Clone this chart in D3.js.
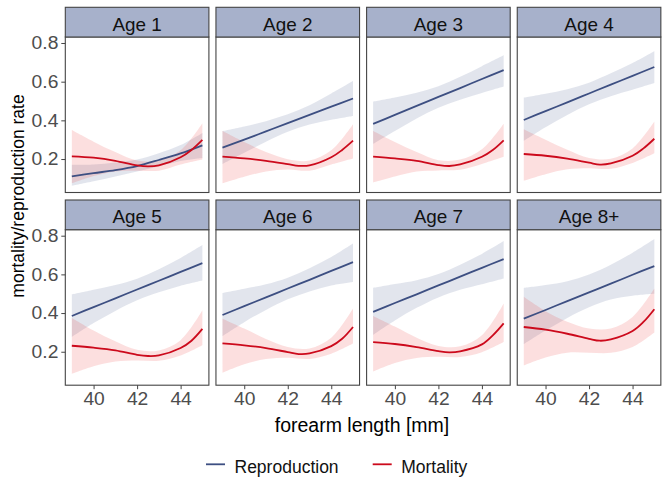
<!DOCTYPE html>
<html><head><meta charset="utf-8">
<script src="https://cdn.jsdelivr.net/npm/d3@7"></script>
<style>
body{margin:0;background:#fff}
svg{display:block}
text{font-family:"Liberation Sans",Arial,sans-serif}
</style>
</head><body>
<svg id="chart" width="666" height="482"></svg>
<script>
// ---- data ----
const ageLabels = ["Age 1","Age 2","Age 3","Age 4","Age 5","Age 6","Age 7","Age 8+"];
const gridX = [39,40,41,42,43,44,45];
const mortGridX = [39,40,41,42,42.5,43,44,44.5,45];

const reproFit = [
  [0.110,0.127,0.143,0.164,0.195,0.229,0.271],
  [0.259,0.300,0.343,0.386,0.428,0.471,0.513],
  [0.382,0.428,0.475,0.521,0.567,0.614,0.660],
  [0.402,0.448,0.493,0.539,0.585,0.630,0.676],
  [0.385,0.431,0.476,0.522,0.567,0.613,0.658],
  [0.390,0.436,0.481,0.527,0.572,0.618,0.663],
  [0.406,0.452,0.497,0.543,0.588,0.634,0.679],
  [0.371,0.416,0.462,0.507,0.552,0.598,0.643]
];
const reproLo = [
  [0.062,0.085,0.110,0.135,0.163,0.190,0.205],
  [0.174,0.232,0.290,0.341,0.378,0.403,0.423],
  [0.278,0.345,0.410,0.465,0.507,0.542,0.575],
  [0.295,0.365,0.428,0.483,0.525,0.558,0.593],
  [0.276,0.348,0.411,0.466,0.507,0.541,0.568],
  [0.281,0.353,0.416,0.471,0.512,0.543,0.561],
  [0.288,0.362,0.427,0.481,0.520,0.549,0.579],
  [0.240,0.310,0.375,0.430,0.470,0.490,0.500]
];
const reproHi = [
  [0.170,0.172,0.182,0.198,0.230,0.272,0.335],
  [0.344,0.368,0.396,0.431,0.478,0.539,0.603],
  [0.497,0.518,0.543,0.577,0.625,0.680,0.736],
  [0.518,0.538,0.561,0.595,0.643,0.696,0.757],
  [0.497,0.521,0.545,0.578,0.627,0.685,0.752],
  [0.504,0.526,0.549,0.583,0.632,0.690,0.760],
  [0.530,0.550,0.570,0.602,0.650,0.706,0.772],
  [0.530,0.545,0.565,0.600,0.650,0.712,0.783]
];
const mortFit = [
  [0.214,0.207,0.191,0.167,0.162,0.167,0.209,0.247,0.299],
  [0.212,0.203,0.191,0.174,0.165,0.167,0.209,0.247,0.295],
  [0.212,0.203,0.191,0.169,0.164,0.172,0.212,0.247,0.297],
  [0.226,0.217,0.202,0.181,0.171,0.177,0.217,0.255,0.305],
  [0.231,0.221,0.207,0.184,0.178,0.181,0.219,0.257,0.318],
  [0.243,0.233,0.219,0.198,0.188,0.191,0.229,0.267,0.328],
  [0.250,0.240,0.224,0.203,0.197,0.202,0.238,0.285,0.347],
  [0.328,0.314,0.293,0.267,0.257,0.264,0.307,0.354,0.420]
];
const mortLo = [
  [0.074,0.112,0.136,0.140,0.140,0.172,0.198],
  [0.074,0.108,0.136,0.146,0.140,0.172,0.203],
  [0.079,0.110,0.136,0.141,0.145,0.175,0.212],
  [0.088,0.122,0.147,0.153,0.150,0.180,0.230],
  [0.086,0.125,0.150,0.155,0.153,0.180,0.233],
  [0.091,0.135,0.162,0.169,0.163,0.190,0.242],
  [0.098,0.142,0.168,0.174,0.173,0.198,0.250],
  [0.129,0.170,0.195,0.195,0.195,0.225,0.300]
];
const mortHi = [
  [0.350,0.290,0.236,0.192,0.192,0.245,0.385],
  [0.345,0.288,0.236,0.199,0.192,0.245,0.380],
  [0.345,0.288,0.236,0.194,0.197,0.250,0.382],
  [0.354,0.300,0.248,0.206,0.202,0.255,0.394],
  [0.375,0.310,0.254,0.210,0.207,0.260,0.414],
  [0.371,0.320,0.266,0.224,0.217,0.272,0.423],
  [0.385,0.330,0.272,0.230,0.228,0.285,0.449],
  [0.484,0.410,0.355,0.320,0.320,0.380,0.527]
];
const xTicks = [40,42,44];
const yTicks = [0.2,0.4,0.6,0.8];
const seriesNames = ["Reproduction","Mortality"];
const xDomain = [38.7,45.3];
const yDomain = [0.027,0.831];

// ---- styles / layout ----
const colors = {repro:"#3D4F82", mort:"#CC0A1C", reproFill:"#3E5288", mortFill:"#E8262A"};
const left0 = 65.3, pw = 143.6, colStep = 150.65;
const stripTops = [7.3, 200], stripH = 29.7, ph = 155.5;
const svg = d3.select("#chart");

const areaFor = (x,y) => d3.area().x(d=>x(d[0])).y0(d=>y(d[1])).y1(d=>y(d[2])).curve(d3.curveCatmullRom.alpha(0.5));
const lineFor = (x,y) => d3.line().x(d=>x(d[0])).y(d=>y(d[1])).curve(d3.curveCatmullRom.alpha(0.5));

ageLabels.forEach((lab,i)=>{
  const col = i%4, row = Math.floor(i/4);
  const px = left0 + col*colStep;
  const st = stripTops[row];
  const pt = st + stripH;
  const x = d3.scaleLinear().domain(xDomain).range([px, px+pw]);
  const y = d3.scaleLinear().domain(yDomain).range([pt+ph, pt]);
  const g = svg.append("g");

  // ribbons
  const rData = gridX.map((v,k)=>[v, reproLo[i][k], reproHi[i][k]]);
  const mData = gridX.map((v,k)=>[v, mortLo[i][k], mortHi[i][k]]);
  g.append("path").attr("d", areaFor(x,y)(rData)).attr("fill", colors.reproFill).attr("fill-opacity",0.15);
  g.append("path").attr("d", areaFor(x,y)(mData)).attr("fill", colors.mortFill).attr("fill-opacity",0.15);
  // lines
  g.append("path").attr("d", lineFor(x,y)(gridX.map((v,k)=>[v, reproFit[i][k]])))
    .attr("fill","none").attr("stroke",colors.repro).attr("stroke-width",1.8);
  g.append("path").attr("d", lineFor(x,y)(mortGridX.map((v,k)=>[v, mortFit[i][k]])))
    .attr("fill","none").attr("stroke",colors.mort).attr("stroke-width",1.8);

  // panel border
  g.append("rect").attr("x",px).attr("y",pt).attr("width",pw).attr("height",ph)
    .attr("fill","none").attr("stroke","#444").attr("stroke-width",1.1);
  // strip
  g.append("rect").attr("x",px).attr("y",st).attr("width",pw).attr("height",stripH)
    .attr("fill","#A7B1CB").attr("stroke","#444").attr("stroke-width",1.1);
  g.append("text").attr("transform",`translate(${px+pw/2},${st+23.2}) scale(1.08,1)`)
    .attr("text-anchor","middle").attr("font-size","17.5px").attr("fill","#111").text(lab);

  // axes
  if (col===0){
    const ax = g.append("g").attr("transform",`translate(${px},0)`)
      .call(d3.axisLeft(y).tickValues(yTicks).tickSize(4).tickPadding(2.5).tickFormat(d3.format(".1f")));
    ax.select(".domain").remove();
    ax.selectAll(".tick line").attr("stroke","#444");
    ax.selectAll(".tick text").attr("font-size","18px").attr("fill","#4D4D4D")
      .attr("font-family","'Liberation Sans',Arial,sans-serif").attr("transform","scale(1.07,1)");
  }
  if (row===1){
    const ax = g.append("g").attr("transform",`translate(0,${pt+ph})`)
      .call(d3.axisBottom(x).tickValues(xTicks).tickSize(4).tickPadding(3).tickFormat(d3.format("d")));
    ax.select(".domain").remove();
    ax.selectAll(".tick line").attr("stroke","#444");
    ax.selectAll(".tick text").attr("font-size","18px").attr("fill","#4D4D4D")
      .attr("font-family","'Liberation Sans',Arial,sans-serif").attr("transform","scale(1.07,1)");
  }
});

// axis titles
svg.append("text").attr("x",362).attr("y",432).attr("text-anchor","middle")
  .attr("font-size","19.5px").attr("fill","#000").text("forearm length [mm]");
svg.append("text").attr("transform","translate(24,196) rotate(-90)").attr("text-anchor","middle")
  .attr("font-size","17.5px").attr("fill","#000").text("mortality/reproduction rate");

// legend
const legX = [206, 372.7];
const legCol = [colors.repro, colors.mort];
seriesNames.forEach((n,k)=>{
  svg.append("line").attr("x1",legX[k]).attr("x2",legX[k]+19).attr("y1",464.3).attr("y2",464.3)
    .attr("stroke",legCol[k]).attr("stroke-width",1.8);
  svg.append("text").attr("x",legX[k]+28.5).attr("y",472.5).attr("font-size","17.5px")
    .attr("fill","#111").text(n);
});
</script>
</body></html>
